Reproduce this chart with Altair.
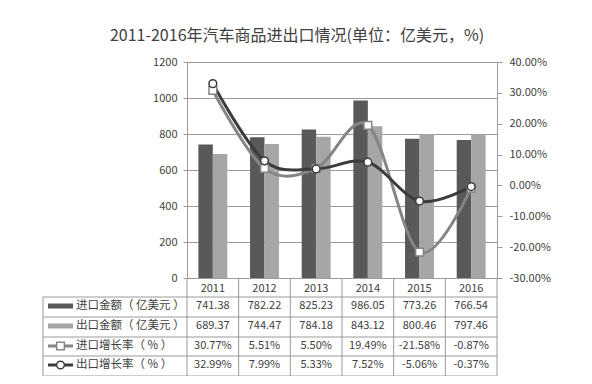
import altair as alt
import pandas as pd

years = ["2011", "2012", "2013", "2014", "2015", "2016"]
import_value = [741.38, 782.22, 825.23, 986.05, 773.26, 766.54]
export_value = [689.37, 744.47, 784.18, 843.12, 800.46, 797.46]
import_growth = [30.77, 5.51, 5.50, 19.49, -21.58, -0.87]
export_growth = [32.99, 7.99, 5.33, 7.52, -5.06, -0.37]
row_labels = ["进口金额（ 亿美元 ）", "出口金额（ 亿美元 ）", "进口增长率（ % ）", "出口增长率（ % ）"]
left_ticks = [0, 200, 400, 600, 800, 1000, 1200]
right_ticks = [-30, -20, -10, 0, 10, 20, 30, 40]

df = pd.DataFrame({"year": years, "imp": import_value, "exp": export_value,
                   "ig": import_growth, "eg": export_growth})

W, H = 310, 216
FONT = "Noto Sans CJK SC"
TXT = "#404040"
GRID = "#9a9a9a"
C_IMP = "#595959"
C_EXP = "#a6a6a6"
C_IG = "#858585"
C_EG = "#3c3c3c"

base = alt.Chart(df)
one = alt.Data(values=[{"k": 0}])


def xc():
    return alt.X("year:N", sort=years, bandPosition=0.5)


bars = base.transform_fold(["imp", "exp"], as_=["series", "value"]).mark_bar().encode(
    x=alt.X("year:N", sort=years, title=None,
            scale=alt.Scale(paddingInner=0.44, paddingOuter=0.22),
            axis=alt.Axis(ticks=False, labelPadding=4, labelFontSize=11, labelFont=FONT,
                          labelColor=TXT, labelAngle=0, domainColor=GRID, grid=False)),
    xOffset=alt.XOffset("series:N", sort=["imp", "exp"]),
    y=alt.Y("value:Q", scale=alt.Scale(domain=[0, 1200]), title=None,
            axis=alt.Axis(orient="left", values=left_ticks, format="d", grid=True,
                          gridColor=GRID, tickSize=4, tickColor=GRID, domainColor=GRID,
                          labelPadding=6, labelFontSize=11, labelFont=FONT, labelColor=TXT)),
    color=alt.Color("series:N", scale=alt.Scale(domain=["imp", "exp"], range=[C_IMP, C_EXP]),
                    legend=None),
)

ry = alt.Y("rate:Q", scale=alt.Scale(domain=[-30, 40]), title=None,
           axis=alt.Axis(orient="right", values=right_ticks, grid=False, tickSize=5,
                         tickColor=GRID, domainColor=GRID, labelPadding=7,
                         labelFontSize=11, labelFont=FONT, labelColor=TXT,
                         labelExpr="replace(format(datum.value, '.2f'), '\u2212', '-') + '%'"))

growth = base.transform_fold(["ig", "eg"], as_=["series", "rate"])
ig = growth.transform_filter("datum.series == 'ig'")
eg = growth.transform_filter("datum.series == 'eg'")

lines = alt.layer(
    ig.mark_line(interpolate="cardinal", color=C_IG, strokeWidth=3).encode(x=xc(), y=ry),
    eg.mark_line(interpolate="cardinal", color=C_EG, strokeWidth=3).encode(x=xc(), y=ry),
    ig.mark_point(shape="square", filled=True, fill="white", stroke=C_IG, strokeWidth=1.5,
                  size=60, opacity=1).encode(x=xc(), y=ry),
    eg.mark_point(shape="circle", filled=True, fill="white", stroke=C_EG, strokeWidth=1.5,
                  size=60, opacity=1).encode(x=xc(), y=ry),
)

decor = []
# table horizontal lines
for yy in [235, 255, 275, 294, 314]:
    decor.append(alt.Chart(one).mark_rule(color=GRID, strokeWidth=1).encode(
        x=alt.value(-144), x2=alt.value(W), y=alt.value(yy)))
# left border
decor.append(alt.Chart(one).mark_rule(color=GRID, strokeWidth=1).encode(
    x=alt.value(-144), y=alt.value(235), y2=alt.value(314)))
# right border
decor.append(alt.Chart(one).mark_rule(color=GRID, strokeWidth=1).encode(
    x=alt.value(W), y=alt.value(H), y2=alt.value(314)))
# column separators
decor.append(base.mark_rule(color=GRID, strokeWidth=1, xOffset=-W / 12).encode(
    x=xc(), y=alt.value(H), y2=alt.value(314)))

row_y = [244, 264, 284, 303]

# values
for field, yy in [("imp", row_y[0]), ("exp", row_y[1])]:
    decor.append(base.mark_text(fontSize=11, font=FONT, color=TXT, baseline="middle").encode(
        x=xc(), y=alt.value(yy), text=alt.Text(f"{field}:Q", format=".2f")))
for field, yy in [("ig", row_y[2]), ("eg", row_y[3])]:
    decor.append(base.transform_calculate(
        lbl=f"replace(format(datum.{field}, '.2f'), '\u2212', '-') + '%'")
                 .mark_text(fontSize=11, font=FONT, color=TXT, baseline="middle").encode(
        x=xc(), y=alt.value(yy), text="lbl:N"))

# row labels
for lbl, yy in zip(row_labels, row_y):
    decor.append(alt.Chart(one).mark_text(fontSize=11.5, font=FONT, color=TXT, align="left",
                                          baseline="middle").encode(
        x=alt.value(-111), y=alt.value(yy), text=alt.value(lbl)))

# legend symbols
for col, yy in [(C_IMP, row_y[0]), (C_EXP, row_y[1])]:
    decor.append(alt.Chart(one).mark_rect(color=col).encode(
        x=alt.value(-139), x2=alt.value(-114), y=alt.value(yy - 2.5), y2=alt.value(yy + 2.5)))
for col, yy, shp in [(C_IG, row_y[2], "square"), (C_EG, row_y[3], "circle")]:
    decor.append(alt.Chart(one).mark_rule(color=col, strokeWidth=3).encode(
        x=alt.value(-139), x2=alt.value(-114), y=alt.value(yy)))
    decor.append(alt.Chart(one).mark_point(shape=shp, filled=True, fill="white", stroke=col,
                                           strokeWidth=1.5, size=60, opacity=1).encode(
        x=alt.value(-126.5), y=alt.value(yy)))

chart = alt.layer(bars, lines, *decor).resolve_scale(y="independent").properties(
    width=W, height=H,
    autosize=alt.AutoSizeParams(type="none"),
    padding={"left": 179, "top": 54, "right": 87, "bottom": 98},
    title=alt.TitleParams("2011-2016年汽车商品进出口情况(单位：亿美元，%)", fontSize=16, font=FONT,
                          color=TXT, fontWeight="normal", dx=-45, offset=12),
).configure_view(stroke=None).configure(background="white")

chart.save("out.html", embed_options={"renderer": "svg", "actions": False})
